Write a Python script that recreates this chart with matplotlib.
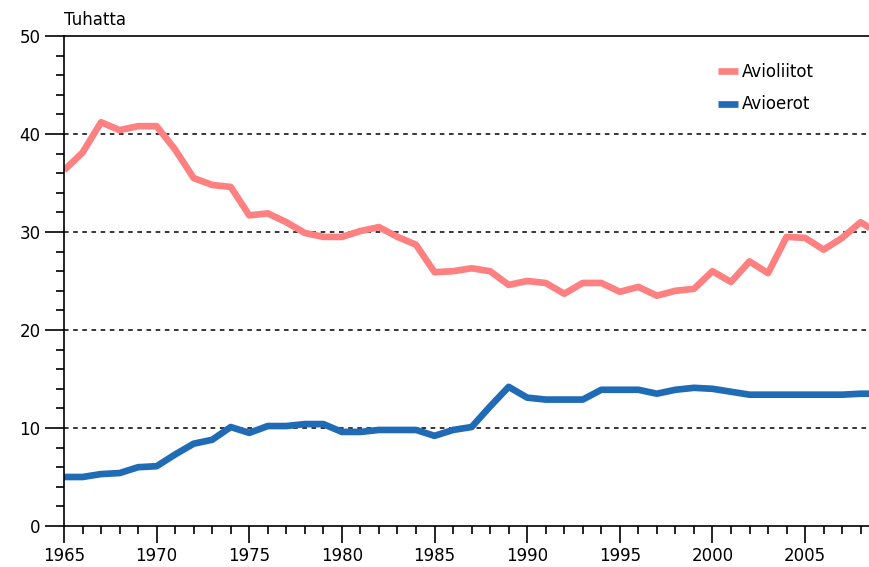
import matplotlib.pyplot as plt
from matplotlib.ticker import MultipleLocator

# Vuodet ja arvot (tuhatta)
vuodet = list(range(1965, 2010))
avioliitot = [36.3, 38.1, 41.2, 40.4, 40.8, 40.8, 38.4, 35.5, 34.8, 34.6,
              31.7, 31.9, 31.0, 29.9, 29.5, 29.5, 30.1, 30.5, 29.5, 28.7,
              25.9, 26.0, 26.3, 26.0, 24.6, 25.0, 24.8, 23.7, 24.8, 24.8,
              23.9, 24.4, 23.5, 24.0, 24.2, 26.0, 24.9, 27.0, 25.8, 29.5,
              29.4, 28.2, 29.4, 31.0, 29.8]
avioerot = [5.0, 5.0, 5.3, 5.4, 6.0, 6.1, 7.3, 8.4, 8.8, 10.1,
            9.5, 10.2, 10.2, 10.4, 10.4, 9.6, 9.6, 9.8, 9.8, 9.8,
            9.2, 9.8, 10.1, 12.2, 14.2, 13.1, 12.9, 12.9, 12.9, 13.9,
            13.9, 13.9, 13.5, 13.9, 14.1, 14.0, 13.7, 13.4, 13.4, 13.4,
            13.4, 13.4, 13.4, 13.5, 13.5]

fig = plt.figure(figsize=(8.69, 5.67), dpi=100)
ax = fig.add_axes([64 / 869, 1 - 526 / 567, 1 - 64 / 869, 490 / 567])

ax.plot(vuodet, avioliitot, color='#ff8080', lw=4.8, label='Avioliitot',
        solid_capstyle='butt')
ax.plot(vuodet, avioerot, color='#1f6bb5', lw=4.8, label='Avioerot',
        solid_capstyle='butt')

ax.set_xlim(1965, 2008.45)
ax.set_ylim(0, 50)
ax.xaxis.set_major_locator(MultipleLocator(5))
ax.xaxis.set_minor_locator(MultipleLocator(1))
ax.yaxis.set_major_locator(MultipleLocator(10))
ax.yaxis.set_minor_locator(MultipleLocator(2))
ax.tick_params(which='major', length=12, width=1.2, direction='out',
               labelsize=12, pad=3)
ax.tick_params(which='minor', length=6, width=1.2, direction='out')
ax.tick_params(axis='y', which='major', length=14)

for y in [10, 20, 30, 40]:
    ax.axhline(y, color='black', lw=1.1, ls=(0, (3, 3)), zorder=0)

ax.spines['right'].set_visible(False)
for s in ['left', 'bottom', 'top']:
    ax.spines[s].set_linewidth(1.2)

ax.text(0, 1.015, 'Tuhatta', transform=ax.transAxes, fontsize=12,
        ha='left', va='bottom')

ax.legend(loc='upper right', bbox_to_anchor=(0.95, 0.975), frameon=False,
          fontsize=12, handlelength=1.2, handletextpad=0.2,
          labelspacing=0.85)

fig.savefig('out.png', dpi=100)
